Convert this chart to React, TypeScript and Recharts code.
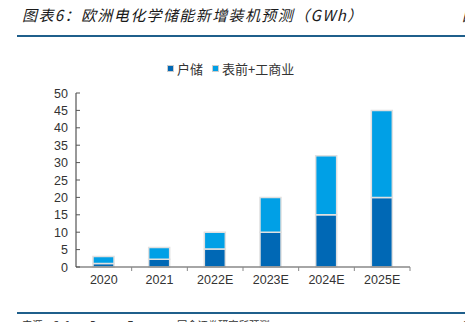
import React from 'react';
import { BarChart, Bar, XAxis, YAxis } from 'recharts';

const years = ['2020', '2021', '2022E', '2023E', '2024E', '2025E'];
const household = [1, 2.2, 5.2, 10, 15, 20];
const frontCommercial = [2, 3.4, 4.8, 10, 17, 25];
const yTicks = [0, 5, 10, 15, 20, 25, 30, 35, 40, 45, 50];

const HOME = '#0068b5';
const FRONT = '#00a0e6';
const LINE = '#1f5f8b';
const CJK = '"Noto Sans CJK SC", "Liberation Sans", sans-serif';

const data = years.map((year, i) => ({
  year,
  household: household[i],
  front: frontCommercial[i],
}));

const BAND = 334 / 6;

const XTick = (props: any) => {
  const { x, y, payload } = props;
  return (
    <g>
      <line x1={x + BAND / 2} x2={x + BAND / 2} y1={y - 8} y2={y - 4} stroke="#888" />
      <text x={x} y={y + 9} textAnchor="middle" fill="#333" fontSize={12.5} fontFamily="Liberation Sans, Arial, sans-serif">
        {payload.value}
      </text>
    </g>
  );
};

const YTick = (props: any) => {
  const { x, y, payload } = props;
  return (
    <g>
      <line x1={x + 6} x2={x + 10} y1={y} y2={y} stroke="#555" />
      <text x={x - 2} y={y + 4.5} textAnchor="end" fill="#333" fontSize={12.5} fontFamily="Liberation Sans, Arial, sans-serif">
        {payload.value}
      </text>
    </g>
  );
};

function LegendItem({ color, label }: { color: string; label: string }) {
  return (
    <span style={{ display: 'inline-flex', alignItems: 'center', marginRight: 9 }}>
      <span
        style={{
          width: 5,
          height: 5,
          background: color,
          border: '1px solid #ccc',
          marginRight: 3,
          display: 'inline-block',
        }}
      />
      <span>{label}</span>
    </span>
  );
}

export default function App() {
  return (
    <div style={{ position: 'relative', margin: -8, width: 473, height: 330, overflow: 'hidden', background: '#fff' }}>
      <div
        style={{
          position: 'absolute',
          left: 22,
          top: 4,
          fontFamily: CJK,
          fontStyle: 'italic',
          fontWeight: 400,
          fontSize: 15,
          color: '#1a1a1a',
          whiteSpace: 'nowrap',
          letterSpacing: 1.4,
        }}
      >
        图表6：欧洲电化学储能新增装机预测（GWh）
      </div>
      <div style={{ position: 'absolute', left: 462, top: 4, fontFamily: CJK, fontStyle: 'italic', fontSize: 15, color: '#1a1a1a' }}>
        图
      </div>
      <div style={{ position: 'absolute', left: 17, top: 35, width: 456, height: 1.5, background: LINE }} />
      <div
        style={{
          position: 'absolute',
          left: 167,
          top: 59,
          fontFamily: CJK,
          fontSize: 13,
          color: '#333',
          whiteSpace: 'nowrap',
          display: 'flex',
        }}
      >
        <LegendItem color={HOME} label="户储" />
        <LegendItem color={FRONT} label="表前+工商业" />
      </div>
      <div style={{ position: 'absolute', left: 0, top: 0 }}>
        <BarChart width={473} height={330} data={data} margin={{ top: 93, right: 63, bottom: 33, left: 36 }} barSize={21}>
          <XAxis
            dataKey="year"
            axisLine={{ stroke: '#888', strokeWidth: 1.5 }}
            tickLine={false}
            tick={<XTick />}
            height={30}
            interval={0}
          />
          <YAxis
            domain={[0, 50]}
            ticks={yTicks}
            axisLine={{ stroke: '#333' }}
            tickLine={false}
            tickSize={0}
            tickMargin={6}
            tick={<YTick />}
            width={40}
            interval={0}
          />
          <Bar dataKey="household" stackId="a" fill={HOME} stroke="#e0e0e0" strokeWidth={1.5} isAnimationActive={false} />
          <Bar dataKey="front" stackId="a" fill={FRONT} stroke="#e0e0e0" strokeWidth={1.5} isAnimationActive={false} />
        </BarChart>
      </div>
      <div style={{ position: 'absolute', left: 17, top: 312, width: 456, height: 1.5, background: LINE }} />
      <div
        style={{
          position: 'absolute',
          left: 22,
          top: 317,
          fontFamily: '"DejaVu Sans Mono", "Noto Sans CJK SC", monospace',
          fontSize: 10.3,
          color: '#333',
          whiteSpace: 'nowrap',
        }}
      >
        来源：Solar Power Europe, 国金证券研究所预测
      </div>
      <div style={{ position: 'absolute', left: 463, top: 317, fontFamily: CJK, fontSize: 10.3, color: '#333' }}>来</div>
    </div>
  );
}
